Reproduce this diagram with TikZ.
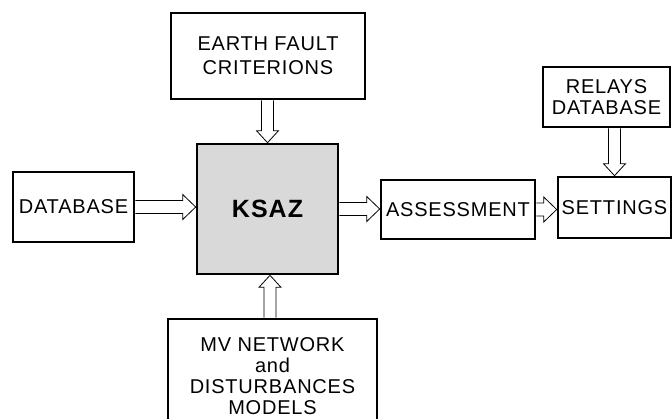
\documentclass[tikz,border=0pt]{standalone}
\usepackage{fontspec}
\setmainfont{Liberation Sans}[LetterSpace=4]
\usetikzlibrary{calc}
\tikzset{
  box/.style={draw=black, line width=2.6pt, fill=white, align=center, inner sep=0pt,
    font=\fontsize{20}{22}\selectfont},
  mainbox/.style={box, fill=ksazgray, font=\fontsize{25}{27}\selectfont\bfseries},
  harrow/.style={draw=black, line width=0.8pt, line join=miter},
}
\definecolor{ksazgray}{HTML}{D9D9D9}
\newcommand{\rarrow}[2]{\draw[harrow] let \p1=(#1.east), \p2=(#2.west) in
  (\x1,\y1+6.5pt) -- (\x2-13pt,\y1+6.5pt) -- (\x2-13pt,\y1+12.5pt) -- (\x2,\y1)
  -- (\x2-13pt,\y1-12.5pt) -- (\x2-13pt,\y1-6.5pt) -- (\x1,\y1-6.5pt);}
\newcommand{\darrow}[2]{\draw[harrow] let \p1=(#1.south), \p2=(#2.north) in
  (\x2+6pt,\y1) -- (\x2+6pt,\y2+12pt) -- (\x2+11pt,\y2+12pt) -- (\x2,\y2)
  -- (\x2-11pt,\y2+12pt) -- (\x2-6pt,\y2+12pt) -- (\x2-6pt,\y1);}
\newcommand{\uarrow}[2]{\draw[harrow] let \p1=(#1.north), \p2=(#2.south), \n1={(\x1+\x2)/2} in
  (\n1+6pt,\y1) -- (\n1+6pt,\y2-12pt) -- (\n1+11pt,\y2-12pt) -- (\n1,\y2)
  -- (\n1-11pt,\y2-12pt) -- (\n1-6pt,\y2-12pt) -- (\n1-6pt,\y1);}
\begin{document}
\begin{tikzpicture}[x=1pt,y=-1pt]
\useasboundingbox (0,0) rectangle (672,418);
\clip (0,0) rectangle (672,418);
\fill[white] (0,0) rectangle (672,418);
\node[box, minimum width=194, minimum height=86] (ef) at (268,56) {EARTH FAULT\\[2pt]CRITERIONS};
\node[mainbox, minimum width=141, minimum height=130] (ksaz) at (267.5,209) {KSAZ};
\node[box, minimum width=121, minimum height=70] (db) at (73.5,207) {DATABASE};
\node[box, minimum width=154, minimum height=59] (as) at (458,209.5) {ASSESSMENT};
\node[box, minimum width=113, minimum height=61] (set) at (614.5,207.5) {SETTINGS};
\node[box, minimum width=127, minimum height=60, font=\fontsize{20}{21}\selectfont] (rel) at (606.5,97) {RELAYS\\DATABASE};
\node[box, minimum width=209, minimum height=115, font=\fontsize{20}{21}\selectfont] (mv) at (272.5,376.5) {MV NETWORK\\and\\DISTURBANCES\\MODELS};
\darrow{ef}{ksaz}
\rarrow{db}{ksaz}
\rarrow{ksaz}{as}
\rarrow{as}{set}
\darrow{rel}{set}
\uarrow{mv}{ksaz}
\end{tikzpicture}
\end{document}
